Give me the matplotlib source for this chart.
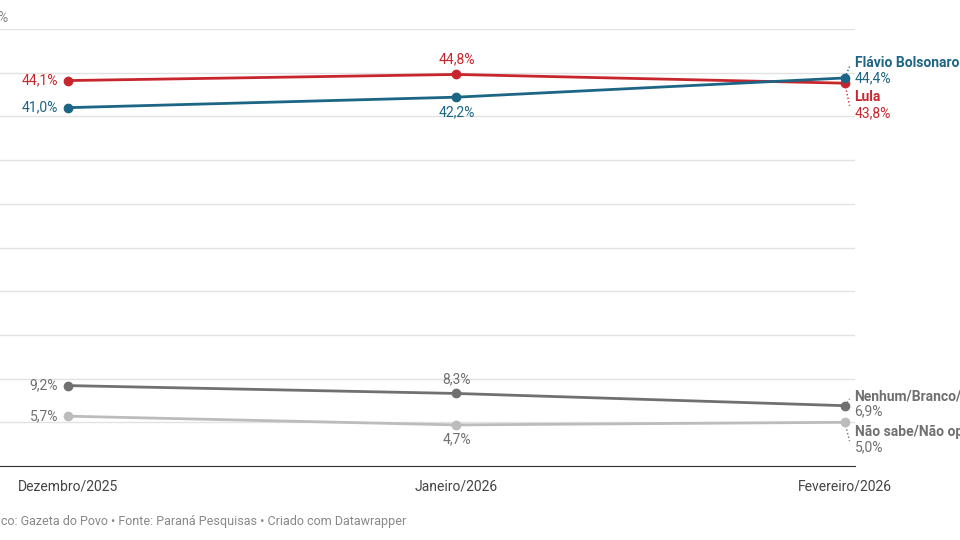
import matplotlib.pyplot as plt

months = ['Dezembro/2025', 'Janeiro/2026', 'Fevereiro/2026']
flavio = [41.0, 42.2, 44.4]
lula = [44.1, 44.8, 43.8]
nenhum = [9.2, 8.3, 6.9]
nao_sabe = [5.7, 4.7, 5.0]

blue = '#1d6584'
red = '#c8262d'
dgray = '#707070'
lgray = '#bcbcbc'

plt.rcParams['font.family'] = ['Roboto', 'DejaVu Sans']
fig = plt.figure(figsize=(9.6, 5.4), dpi=100)
ax = fig.add_axes([0, 1 - 466 / 540, 855 / 960, 437 / 540])
x = list(range(len(months)))

for vals, c in [(lula, red), (flavio, blue), (nenhum, dgray), (nao_sabe, lgray)]:
    ax.plot(x, vals, color=c, lw=2, marker='o', ms=6, zorder=3)

lab = lambda v: f'{v:.1f}'.replace('.', ',') + '%'


def note(txt, xi, v, dx, dy, c, ha, va='center', bold=False):
    ax.annotate(txt, (xi, v), xytext=(dx, dy), textcoords='offset points', ha=ha, va=va,
                color=c, fontsize=10, fontweight='bold' if bold else 'normal',
                annotation_clip=False)


# left labels
note(lab(lula[0]), 0, lula[0], -7, 0, red, 'right')
note(lab(flavio[0]), 0, flavio[0], -7, 0, blue, 'right')
note(lab(nenhum[0]), 0, nenhum[0], -7, 0, dgray, 'right')
note(lab(nao_sabe[0]), 0, nao_sabe[0], -7, 0, dgray, 'right')
# middle labels
note(lab(lula[1]), 1, lula[1], 0, 6, red, 'center', 'bottom')
note(lab(flavio[1]), 1, flavio[1], 0, -6, blue, 'center', 'top')
note(lab(nenhum[1]), 1, nenhum[1], 0, 5, dgray, 'center', 'bottom')
note(lab(nao_sabe[1]), 1, nao_sabe[1], 0, -5, dgray, 'center', 'top')
# right labels: (values, colour, name, name offset, value offset)
right = [
    (flavio, blue, 'Flávio Bolsonaro', 10.8, -0.5),
    (lula, red, 'Lula', -10, -21.6),
    (nenhum, dgray, 'Nenhum/Branco/Nulo', 6.5, -4.3),
    (nao_sabe, dgray, 'Não sabe/Não opinou', -7, -18),
]
for vals, c, name, dn, dv in right:
    note(name, 2, vals[2], 7, dn, c, 'left', bold=True)
    note(lab(vals[2]), 2, vals[2], 7, dv, c, 'left')
    ax.plot([2, 2.012], [vals[2], vals[2] + (dn if abs(dn) > abs(dv) else dv) * 0.12],
            ls=':', color=c, lw=1, clip_on=False)

ax.set_xlim(-0.175, 2.026)
ax.set_ylim(0, 50)
ax.set_yticks(range(0, 51, 5))
ax.grid(axis='y', color='#e2e2e2', lw=1)
ax.tick_params(axis='y', length=0, labelleft=False)
ax.set_xticks(x)
ax.set_xticklabels(months, color='#444444', fontsize=10)
ax.tick_params(axis='x', length=0, pad=10)
for s in ['top', 'right', 'left']:
    ax.spines[s].set_visible(False)
ax.spines['bottom'].set_color('#333333')
ax.set_axisbelow(True)

fig.text(-0.003, 1 - 18 / 540, '%', color='#888888', fontsize=10, va='center')
fig.text(-0.027, 1 - 521 / 540, 'Gráfico: Gazeta do Povo • Fonte: Paraná Pesquisas • Criado com Datawrapper',
         color='#888888', fontsize=9, va='center')
fig.savefig('out.png', dpi=100)
